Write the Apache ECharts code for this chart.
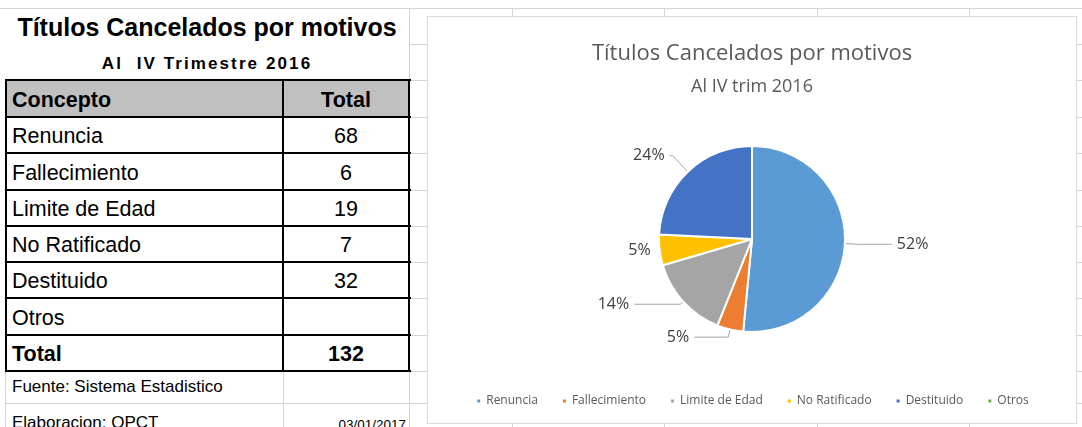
<!DOCTYPE html>
<html>
<head>
<meta charset="utf-8">
<script src="https://cdn.jsdelivr.net/npm/echarts@6/dist/echarts.min.js"></script>
<style>
html,body{margin:0;padding:0;background:#fff;width:1082px;height:427px;overflow:hidden;}
#sheet{position:absolute;left:0;top:0;width:1082px;height:427px;overflow:hidden;font-family:"Liberation Sans",Arial,sans-serif;color:#000;}
.h{position:absolute;height:1px;background:#d4d4d4;}
.v{position:absolute;width:1px;background:#d4d4d4;}
.cell{position:absolute;display:flex;align-items:center;box-sizing:border-box;white-space:nowrap;}
#chartbox{position:absolute;left:427px;top:16px;width:650px;height:408px;background:#fff;border:1px solid #d9d9d9;box-sizing:border-box;}
#chart{position:absolute;left:0;top:0;width:648px;height:406px;}
</style>
</head>
<body>
<div id="sheet"></div>
<div id="chartbox"><div id="chart"></div></div>
<script>
// ---- data ----
const sheetTitle = "Títulos Cancelados por motivos";
const sheetSubtitle = "Al&nbsp; IV Trimestre 2016";
const headers = ["Concepto", "Total"];
const categories = ["Renuncia", "Fallecimiento", "Limite de Edad", "No Ratificado", "Destituido", "Otros"];
const values = [68, 6, 19, 7, 32, null];
const totalLabel = "Total";
const sourceNote = "Fuente: Sistema Estadistico";
const authorNote = "Elaboracion: OPCT";
const dateNote = "03/01/2017";
const chartTitle = "Títulos Cancelados por motivos";
const chartSubtitle = "Al IV trim 2016";
const colors = ["#5B9BD5", "#ED7D31", "#A5A5A5", "#FFC000", "#4472C4", "#70AD47"];

// ---- spreadsheet grid ----
const sheet = document.getElementById('sheet');
function el(cls, style, html){const d=document.createElement('div');d.className=cls;Object.assign(d.style,style);if(html!==undefined)d.innerHTML=html;sheet.appendChild(d);return d;}
const rowY = [8, 44, 80, 117, 153, 190, 226, 262, 298, 335, 371, 403, 440];
rowY.forEach((y,i)=>{ if(i===0) el('h',{left:'0px',top:y+'px',width:'1082px'}); else el('h',{left:'5px',top:y+'px',width:'1077px'}); });
el('v',{left:'5px',top:'44px',height:'400px'});
el('v',{left:'283px',top:'80px',height:'360px'});
el('v',{left:'409px',top:'8px',height:'430px'});
[512,664,817,969].forEach(x=>el('v',{left:x+'px',top:'8px',height:'430px'}));

// title rows
el('cell',{left:'5px',top:'9px',width:'404px',height:'36px',justifyContent:'center',fontWeight:'bold',fontSize:'25px',background:'#fff'},sheetTitle);
el('cell',{left:'5px',top:'45px',width:'404px',height:'35px',justifyContent:'center',paddingTop:'2px',fontWeight:'bold',fontSize:'17px',letterSpacing:'2.1px',background:'#fff'},sheetSubtitle);

// table block
const colX=[5,283,409];
const bodyRows = [[headers[0],headers[1]]].concat(categories.map((c,i)=>[c, values[i]==null?'':String(values[i])]));
const total = values.reduce((a,b)=>a+(b||0),0);
bodyRows.push([totalLabel,String(total)]);
bodyRows.forEach((r,i)=>{
  const top=rowY[i+2], h=rowY[i+3]-rowY[i+2];
  const bold = (i===0 || i===bodyRows.length-1);
  const bg = i===0 ? '#C0C0C0' : '#fff';
  el('cell',{left:colX[0]+'px',top:top+'px',width:(colX[1]-colX[0])+'px',height:h+'px',paddingLeft:'7px',paddingTop:'3px',fontSize:'21.5px',fontWeight:bold?'bold':'normal',background:bg},r[0]);
  el('cell',{left:colX[1]+'px',top:top+'px',width:(colX[2]-colX[1])+'px',height:h+'px',justifyContent:'center',paddingTop:'3px',fontSize:'21.5px',fontWeight:bold?'bold':'normal',background:bg},r[1]);
});
const bTop=rowY[2], bBot=rowY[2+bodyRows.length];
const bk = (s)=>{const d=el('cell',s);d.style.background='#000';};
bk({left:'5px',top:(bTop-1)+'px',width:'406px',height:'2px'});
for(let i=1;i<=bodyRows.length;i++) bk({left:'5px',top:(rowY[2+i]-1)+'px',width:'406px',height:'2px'});
bk({left:'5px',top:(bTop-1)+'px',width:'2px',height:(bBot-bTop+2)+'px'});
bk({left:'282px',top:(bTop-1)+'px',width:'2px',height:(bBot-bTop+2)+'px'});
bk({left:'408px',top:(bTop-1)+'px',width:'2px',height:(bBot-bTop+2)+'px'});

// notes
el('cell',{left:'6px',top:'371px',width:'277px',height:'32px',paddingLeft:'6px',fontSize:'17px'},sourceNote);
el('cell',{left:'6px',top:'404px',width:'277px',height:'36px',paddingLeft:'6px',paddingTop:'2px',fontSize:'17px'},authorNote);
el('cell',{left:'284px',top:'404px',width:'122px',height:'36px',justifyContent:'flex-end',paddingTop:'4px',fontSize:'13.5px'},dateNote);

// ---- chart ----
// per-slice leader-line styling (Excel-like placement of data labels)
const leader = [
  {length:18, length2:34},
  {length:8,  length2:34},
  {length:4,  length2:46},
  {length:3,  length2:1, show:false},
  {length:22, length2:3},
  {length:10, length2:10}
];
const chart = echarts.init(document.getElementById('chart'), null, {renderer:'canvas'});
const FONT = '"Open Sans", Lato, sans-serif';
chart.setOption({
  animation:false,
  color: colors,
  title:{
    text: chartTitle, subtext: chartSubtitle, left:'center', top:21, itemGap:13,
    textStyle:{fontFamily:FONT,fontSize:22,fontWeight:'normal',color:'#595959'},
    subtextStyle:{fontFamily:FONT,fontSize:18,color:'#595959'}
  },
  legend:{
    left:'center', top:373, icon:'rect', itemWidth:5, itemHeight:5, itemGap:23,
    textStyle:{fontFamily:FONT,fontSize:12,color:'#595959'},
    data: categories
  },
  series:[{
    type:'pie',
    center:[324,222], radius:93,
    startAngle:90, clockwise:true,
    percentPrecision:0,
    itemStyle:{borderColor:'#fff',borderWidth:2},
    label:{show:true,position:'outside',formatter:'{d}%',fontFamily:FONT,fontSize:16,color:'#404040'},
    labelLine:{show:true,length:14,length2:18,lineStyle:{color:'#A6A6A6',width:1}},
    emphasis:{disabled:true},
    data: categories.map((c,i)=>({name:c,value:values[i]==null?'-':values[i],labelLine:Object.assign({show:true},leader[i])}))
  }]
});
</script>
</body>
</html>
